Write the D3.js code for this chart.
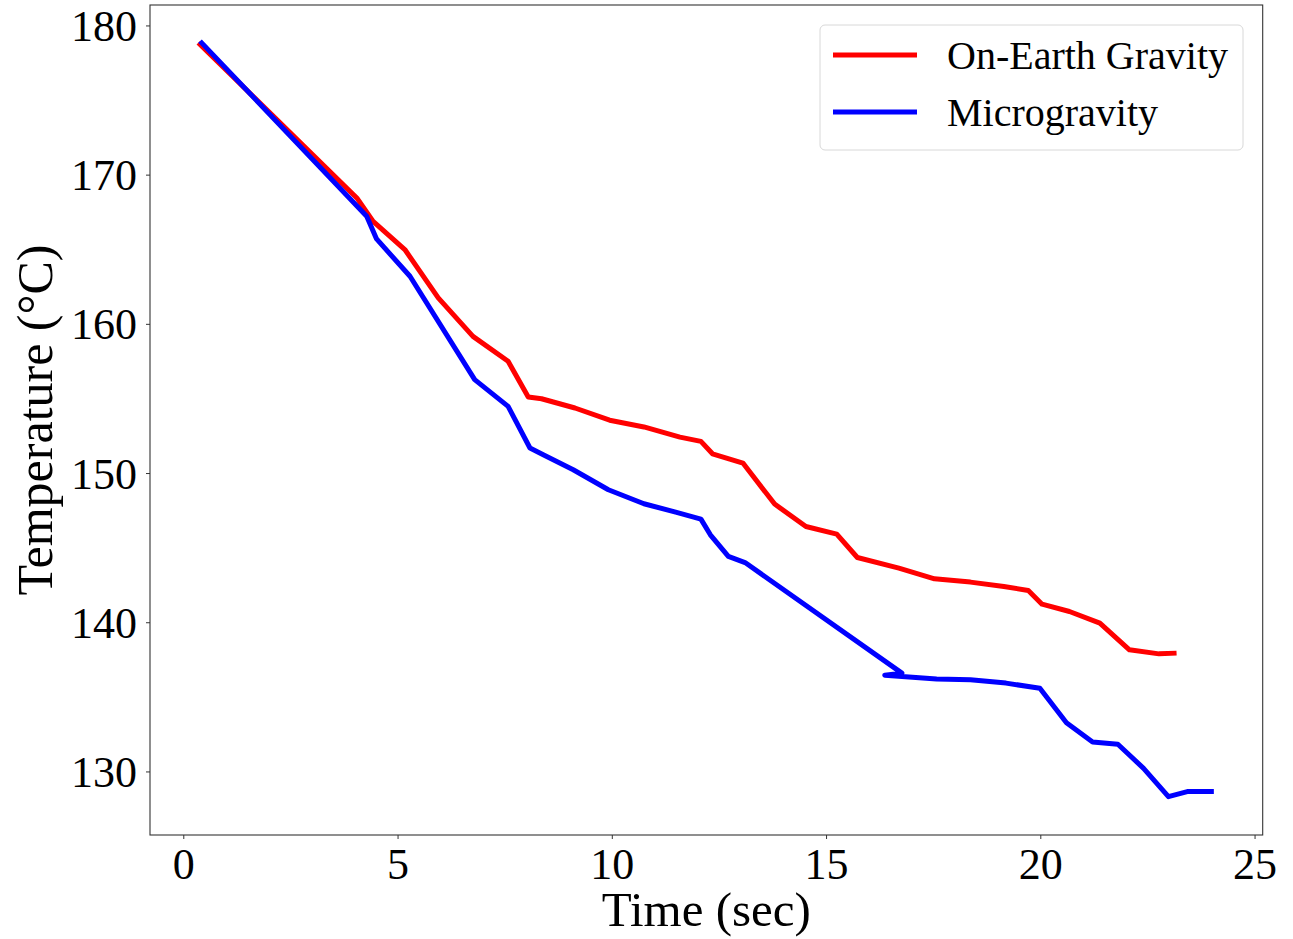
<!DOCTYPE html>
<html>
<head>
<meta charset="utf-8">
<script src="https://cdn.jsdelivr.net/npm/d3@7/dist/d3.min.js"></script>
<style>
  html, body { margin: 0; padding: 0; background: #fff; }
  svg { display: block; font-family: "Liberation Serif", "Times New Roman", serif; }
</style>
</head>
<body>
<svg id="chart" width="1293" height="939"></svg>
<script>
// Cooling curves: temperature vs time for the two gravity conditions
const earthTime = [0.35, 4.05, 4.43, 5.17, 5.95, 6.76, 7.58, 8.05, 8.36, 9.14, 9.95, 10.75, 11.59, 12.08, 12.35, 13.06, 13.80, 14.53, 15.25, 15.73, 16.70, 17.53, 18.37, 19.15, 19.72, 20.04, 20.68, 21.39, 22.08, 22.77, 23.18];
const earthTemp = [178.84, 168.44, 166.87, 164.98, 161.74, 159.16, 157.49, 155.10, 154.98, 154.36, 153.54, 153.09, 152.41, 152.12, 151.29, 150.67, 147.92, 146.42, 145.91, 144.34, 143.63, 142.91, 142.69, 142.39, 142.13, 141.21, 140.72, 139.94, 138.15, 137.88, 137.93];

const microTime = [0.39, 4.28, 4.51, 5.29, 6.80, 7.58, 8.09, 8.40, 9.10, 9.92, 10.75, 11.49, 12.08, 12.30, 12.72, 13.11, 16.77, 16.37, 17.58, 18.37, 19.20, 19.99, 20.61, 21.22, 21.81, 22.41, 22.99, 23.43, 24.05];
const microTemp = [178.95, 167.21, 165.69, 163.19, 156.26, 154.47, 151.68, 151.23, 150.22, 148.88, 147.94, 147.38, 146.91, 145.86, 144.41, 144.00, 136.59, 136.45, 136.20, 136.14, 135.92, 135.58, 133.27, 131.98, 131.82, 130.21, 128.31, 128.65, 128.65];

const seriesNames = ["On-Earth Gravity", "Microgravity"];
const seriesColors = ["#ff0000", "#0000ff"];
const xTicks = [0, 5, 10, 15, 20, 25];
const yTicks = [130, 140, 150, 160, 170, 180];
const xTitle = "Time (sec)";
const yTitle = "Temperature (°C)";

const svg = d3.select("#chart");
const plot = { left: 150, right: 1262.7, top: 5, bottom: 835 };

const x = d3.scaleLinear().domain([-0.777, 25.19]).range([plot.left, plot.right]);
const y = d3.scaleLinear().domain([125.74, 181.37]).range([plot.bottom, plot.top]);

const series = [
  { name: seriesNames[0], color: seriesColors[0], pts: earthTime.map((t, i) => [t, earthTemp[i]]) },
  { name: seriesNames[1], color: seriesColors[1], pts: microTime.map((t, i) => [t, microTemp[i]]) }
];

const line = d3.line().x(d => x(d[0])).y(d => y(d[1]));

svg.append("defs").append("clipPath").attr("id", "clip")
  .append("rect")
  .attr("x", plot.left).attr("y", plot.top)
  .attr("width", plot.right - plot.left).attr("height", plot.bottom - plot.top);

const lines = svg.append("g").attr("clip-path", "url(#clip)");
series.forEach(s => {
  lines.append("path")
    .datum(s.pts)
    .attr("fill", "none")
    .attr("stroke", s.color)
    .attr("stroke-width", 5)
    .attr("stroke-linejoin", "round")
    .attr("stroke-linecap", "butt")
    .attr("d", line);
});

// Axes
const xAxis = d3.axisBottom(x).tickValues(xTicks).tickSize(4).tickPadding(7).tickFormat(d3.format("d"));
const yAxis = d3.axisLeft(y).tickValues(yTicks).tickSize(4).tickPadding(9).tickFormat(d3.format("d"));

const gx = svg.append("g").attr("transform", `translate(0,${plot.bottom})`).call(xAxis);
const gy = svg.append("g").attr("transform", `translate(${plot.left},0)`).call(yAxis);

[gx, gy].forEach(g => {
  g.select(".domain").remove();
  g.selectAll(".tick line").attr("stroke", "#333").attr("stroke-width", 1);
  g.selectAll(".tick text")
    .attr("fill", "#000")
    .style("font-family", "'Liberation Serif', 'Times New Roman', serif")
    .style("font-size", "44px");
});
gy.selectAll(".tick text").attr("dy", "0.34em");
gx.selectAll(".tick text").attr("dy", "0.74em");

// Frame
svg.append("rect")
  .attr("x", plot.left).attr("y", plot.top)
  .attr("width", plot.right - plot.left).attr("height", plot.bottom - plot.top)
  .attr("fill", "none").attr("stroke", "#333").attr("stroke-width", 1.1);

// Axis titles
svg.append("text")
  .attr("x", (plot.left + plot.right) / 2).attr("y", 926)
  .attr("text-anchor", "middle")
  .style("font-size", "49px")
  .text(xTitle);

svg.append("text")
  .attr("transform", `translate(52,${(plot.top + plot.bottom) / 2}) rotate(-90)`)
  .attr("text-anchor", "middle")
  .style("font-size", "50px")
  .text(yTitle);

// Legend
const legend = svg.append("g");
legend.append("rect")
  .attr("x", 820).attr("y", 25).attr("width", 423).attr("height", 125)
  .attr("rx", 5).attr("ry", 5)
  .attr("fill", "#fff").attr("fill-opacity", 0.8)
  .attr("stroke", "#d8d8d8").attr("stroke-width", 1);

const legendRows = [55, 112];
series.forEach((s, i) => {
  legend.append("line")
    .attr("x1", 833).attr("x2", 917)
    .attr("y1", legendRows[i]).attr("y2", legendRows[i])
    .attr("stroke", s.color).attr("stroke-width", 5);
  legend.append("text")
    .attr("x", 947).attr("y", legendRows[i] + 14)
    .style("font-size", "40px")
    .text(s.name);
});
</script>
</body>
</html>
